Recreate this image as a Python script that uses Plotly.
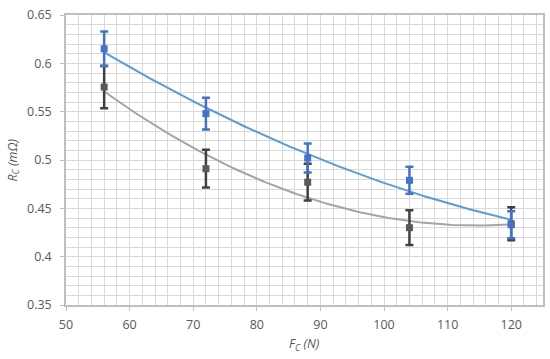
import numpy as np
import plotly.graph_objects as go

# Data
force_n = [56, 72, 88, 104, 120]
rc_blue = [0.615, 0.548, 0.502, 0.479, 0.433]
err_blue = [0.018, 0.0165, 0.015, 0.014, 0.014]
rc_dark = [0.5755, 0.491, 0.477, 0.430, 0.434]
err_dark = [0.022, 0.0195, 0.019, 0.018, 0.017]

x_ticks = [50, 60, 70, 80, 90, 100, 110, 120]
y_ticks = [0.35, 0.4, 0.45, 0.5, 0.55, 0.6, 0.65]

# Polynomial (order 2) trendlines, as in the source spreadsheet
xs = np.linspace(min(force_n), max(force_n), 200)
fit_blue = np.polyval(np.polyfit(force_n, rc_blue, 2), xs)
fit_dark = np.polyval(np.polyfit(force_n, rc_dark, 2), xs)

fig = go.Figure()
fig.add_trace(go.Scatter(x=xs, y=fit_dark, mode="lines",
                         line=dict(color="#A5A5A5", width=2), hoverinfo="skip"))
fig.add_trace(go.Scatter(x=xs, y=fit_blue, mode="lines",
                         line=dict(color="#5B9BD5", width=2), hoverinfo="skip"))
fig.add_trace(go.Scatter(x=force_n, y=rc_dark, mode="markers",
                         marker=dict(symbol="square", size=7, color="#595959"),
                         error_y=dict(type="data", array=err_dark, color="#404040",
                                      thickness=2.5, width=4)))
fig.add_trace(go.Scatter(x=force_n, y=rc_blue, mode="markers",
                         marker=dict(symbol="square", size=7, color="#4472C4"),
                         error_y=dict(type="data", array=err_blue, color="#4472C4",
                                      thickness=2.5, width=4)))

axis_font = dict(family="Open Sans, Arial, sans-serif", size=12.5, color="#595959")
fig.update_layout(
    width=550, height=359,
    margin=dict(l=66, r=7, t=15, b=54),
    paper_bgcolor="white", plot_bgcolor="white",
    showlegend=False,
    xaxis=dict(range=[50, 125], tickvals=x_ticks, showgrid=True, automargin=False,
               gridcolor="#D9D9D9", gridwidth=1,
               minor=dict(dtick=2, tick0=50, showgrid=True, gridcolor="#D9D9D9", gridwidth=1),
               showline=True, linecolor="#BFBFBF", linewidth=1.5, mirror=True,
               ticks="outside", ticklen=4, tickcolor="#BFBFBF",
               ticklabelstandoff=3,
               tickfont=axis_font, zeroline=False),
    yaxis=dict(range=[0.35, 0.65], tickvals=y_ticks, showgrid=True, automargin=False,
               gridcolor="#D9D9D9", gridwidth=1,
               minor=dict(dtick=0.01, tick0=0.35, showgrid=True, gridcolor="#D9D9D9", gridwidth=1),
               showline=True, linecolor="#BFBFBF", linewidth=1.5, mirror=True,
               ticks="outside", ticklen=4, tickcolor="#BFBFBF",
               ticklabelstandoff=6,
               tickfont=axis_font, zeroline=False),
    annotations=[
        dict(text="<i>F<sub>C</sub> (N)</i>", xref="paper", yref="paper",
             x=0.5, y=-0.135, xanchor="center", yanchor="middle",
             showarrow=False, font=axis_font),
        dict(text="<i>R<sub>C</sub> (mΩ)</i>", xref="paper", yref="paper",
             x=-0.112, y=0.5, xanchor="center", yanchor="middle", textangle=-90,
             showarrow=False, font=axis_font),
    ],
)

fig.write_html("out.html", config={"displayModeBar": False},
               post_script="document.body.style.margin='0';")
